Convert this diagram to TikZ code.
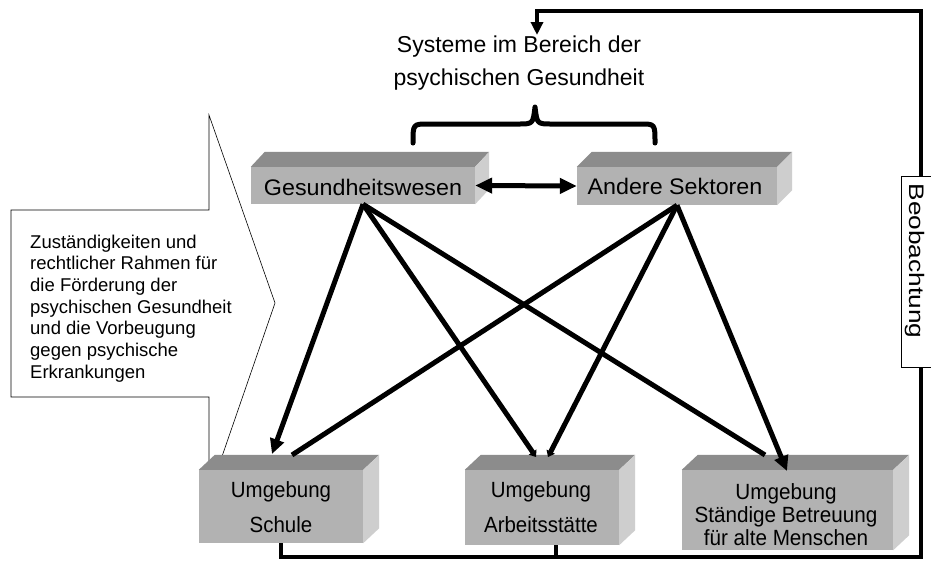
\documentclass[tikz,border=0pt]{standalone}
\usepackage{fontspec}
\setmainfont{Liberation Sans}
\usetikzlibrary{arrows.meta,calc}
\definecolor{frontc}{RGB}{178,178,178}
\definecolor{topc}{RGB}{140,140,140}
\definecolor{sidec}{RGB}{206,206,206}
\newcommand{\hsx}[2][1]{\scalebox{#1}[1]{#2}}
\newcommand{\boxfaces}[3]{%
  \fill[topface] (#1.north west) -- ++(#2,#3) -- ([shift={(#2,#3)}]#1.north east) -- (#1.north east) -- cycle;
  \fill[sideface] (#1.north east) -- ++(#2,#3) -- ([shift={(#2,#3)}]#1.south east) -- (#1.south east) -- cycle;}
\tikzset{
  frontface/.style={fill=frontc, draw=none, inner sep=0pt},
  topface/.style={fill=topc},
  sideface/.style={fill=sidec},
  thickline/.style={line width=5pt, draw=black},
  bigarrow/.style={thickline, -{Triangle[length=15pt,width=14pt]}},
  smallarrow/.style={thickline, -{Triangle[length=6pt,width=9pt]}},
  twoway/.style={line width=5pt, {Triangle[length=17pt,width=15pt]}-{Triangle[length=17pt,width=15pt]}},
  feedback/.style={line width=4pt, -{Triangle[length=13pt,width=12pt]}},
  feedbackline/.style={line width=4pt},
  callout/.style={draw=black, line width=0.6pt, fill=white},
  txt/.style={inner sep=0pt, align=center},
  bracestyle/.style={line width=5pt, line cap=round, line join=round},
}
\begin{document}
\begin{tikzpicture}[x=1pt,y=-1pt]
\fill[white] (0,0) rectangle (931,560);
\useasboundingbox (0,0) rectangle (931,560);

% callout
\draw[callout] (11,210) -- (209,210) -- (209,115) -- (275,303) -- (218,468) -- (209,468) -- (209,397) -- (11,397) -- cycle;
\node[txt, align=left, anchor=north west, font=\fontsize{18.5}{21.7}\selectfont] (resp) at (30,234.5)
  {Zuständigkeiten und\\rechtlicher Rahmen für\\die Förderung der\\psychischen Gesundheit\\und die Vorbeugung\\gegen psychische\\Erkrankungen};

% coordinates for feedback loop
\coordinate (fb-br) at (921,557);
\coordinate (fb-tr) at (921,11);
\coordinate (sys-in) at (537,35);
\coordinate (arb-out) at (556,545);

% front faces
\node[frontface, minimum width=224pt, minimum height=37pt] (gw) at (363,185.5) {};
\node[frontface, minimum width=200pt, minimum height=38pt] (as) at (677,186) {};

% feedback lines (behind boxes)
\draw[feedback] (281,543) |- (fb-br) -- (fb-tr) -| (sys-in);
\draw[feedbackline] (arb-out) -- (arb-out |- fb-br);

\node[frontface, minimum width=164pt, minimum height=73pt] (sch) at (281,506.5) {};
\node[frontface, minimum width=154pt, minimum height=75pt] (arb) at (542,507.5) {};
\node[frontface, minimum width=211pt, minimum height=80pt] (alt) at (787.5,510) {};

\boxfaces{gw}{14pt}{15pt}
\boxfaces{as}{15pt}{15pt}
\boxfaces{sch}{16pt}{15pt}
\boxfaces{arb}{16pt}{15pt}
\boxfaces{alt}{16pt}{15pt}

% texts
\node[txt, font=\fontsize{22.5}{27}\selectfont] (gw-t) at (363,187.5) {\hsx[1.035]{Gesundheitswesen}};
\node[txt, font=\fontsize{22.5}{27}\selectfont] (as-t) at (675,186) {\hsx[1.035]{Andere Sektoren}};
\node[txt, font=\fontsize{22}{35}\selectfont] (sch-t) at (281,507.5) {\hsx[0.93]{Umgebung}\\\hsx[0.93]{Schule}};
\node[txt, font=\fontsize{22}{35}\selectfont] (arb-t) at (541,507.5) {\hsx[0.93]{Umgebung}\\\hsx[0.93]{Arbeitsstätte}};
\node[txt, font=\fontsize{22}{23}\selectfont] (alt-t) at (786,515) {\hsx[0.94]{Umgebung}\\\hsx[0.94]{Ständige Betreuung}\\\hsx[0.94]{für alte Menschen}};

% connector end points
\coordinate (sch-a) at (272,454);
\coordinate (sch-b) at (292,455);
\coordinate (arb-a) at (536,457);
\coordinate (arb-b) at (548,457);
\coordinate (alt-a) at (765,455);
\coordinate (alt-b) at (787,471);

% connectors
\draw[twoway] (gw.east) -- (as.west);
\draw[bigarrow] (gw.south) -- (sch-a);
\draw[thickline] (as.south) -- (sch-b);
\draw[smallarrow] (gw.south) -- (arb-a);
\draw[smallarrow] (as.south) -- (arb-b);
\draw[thickline] (gw.south) -- (alt-a);
\draw[bigarrow] (as.south) -- (alt-b);

% Beobachtung
\node[draw=black, line width=0.7pt, fill=white, minimum width=38pt, minimum height=191pt, inner sep=0pt] (beo) at (920,271.5) {};
\node[txt, rotate=-90, font=\fontsize{21}{24}\selectfont] (beo-t) at (915,261) {\hsx[1.25]{Beobachtung}};

% title and brace
\node[txt, font=\fontsize{23}{33}\selectfont] (sys) at (519,63.4) {Systeme im Bereich der\\psychischen Gesundheit};
\draw[bracestyle] (413,143) .. controls (413,124) .. (428,124) -- (518,124) .. controls (533,124) .. (535,107) .. controls (537,124) .. (552,124) -- (641,124) .. controls (655,124) .. (655,143);
\end{tikzpicture}
\end{document}
